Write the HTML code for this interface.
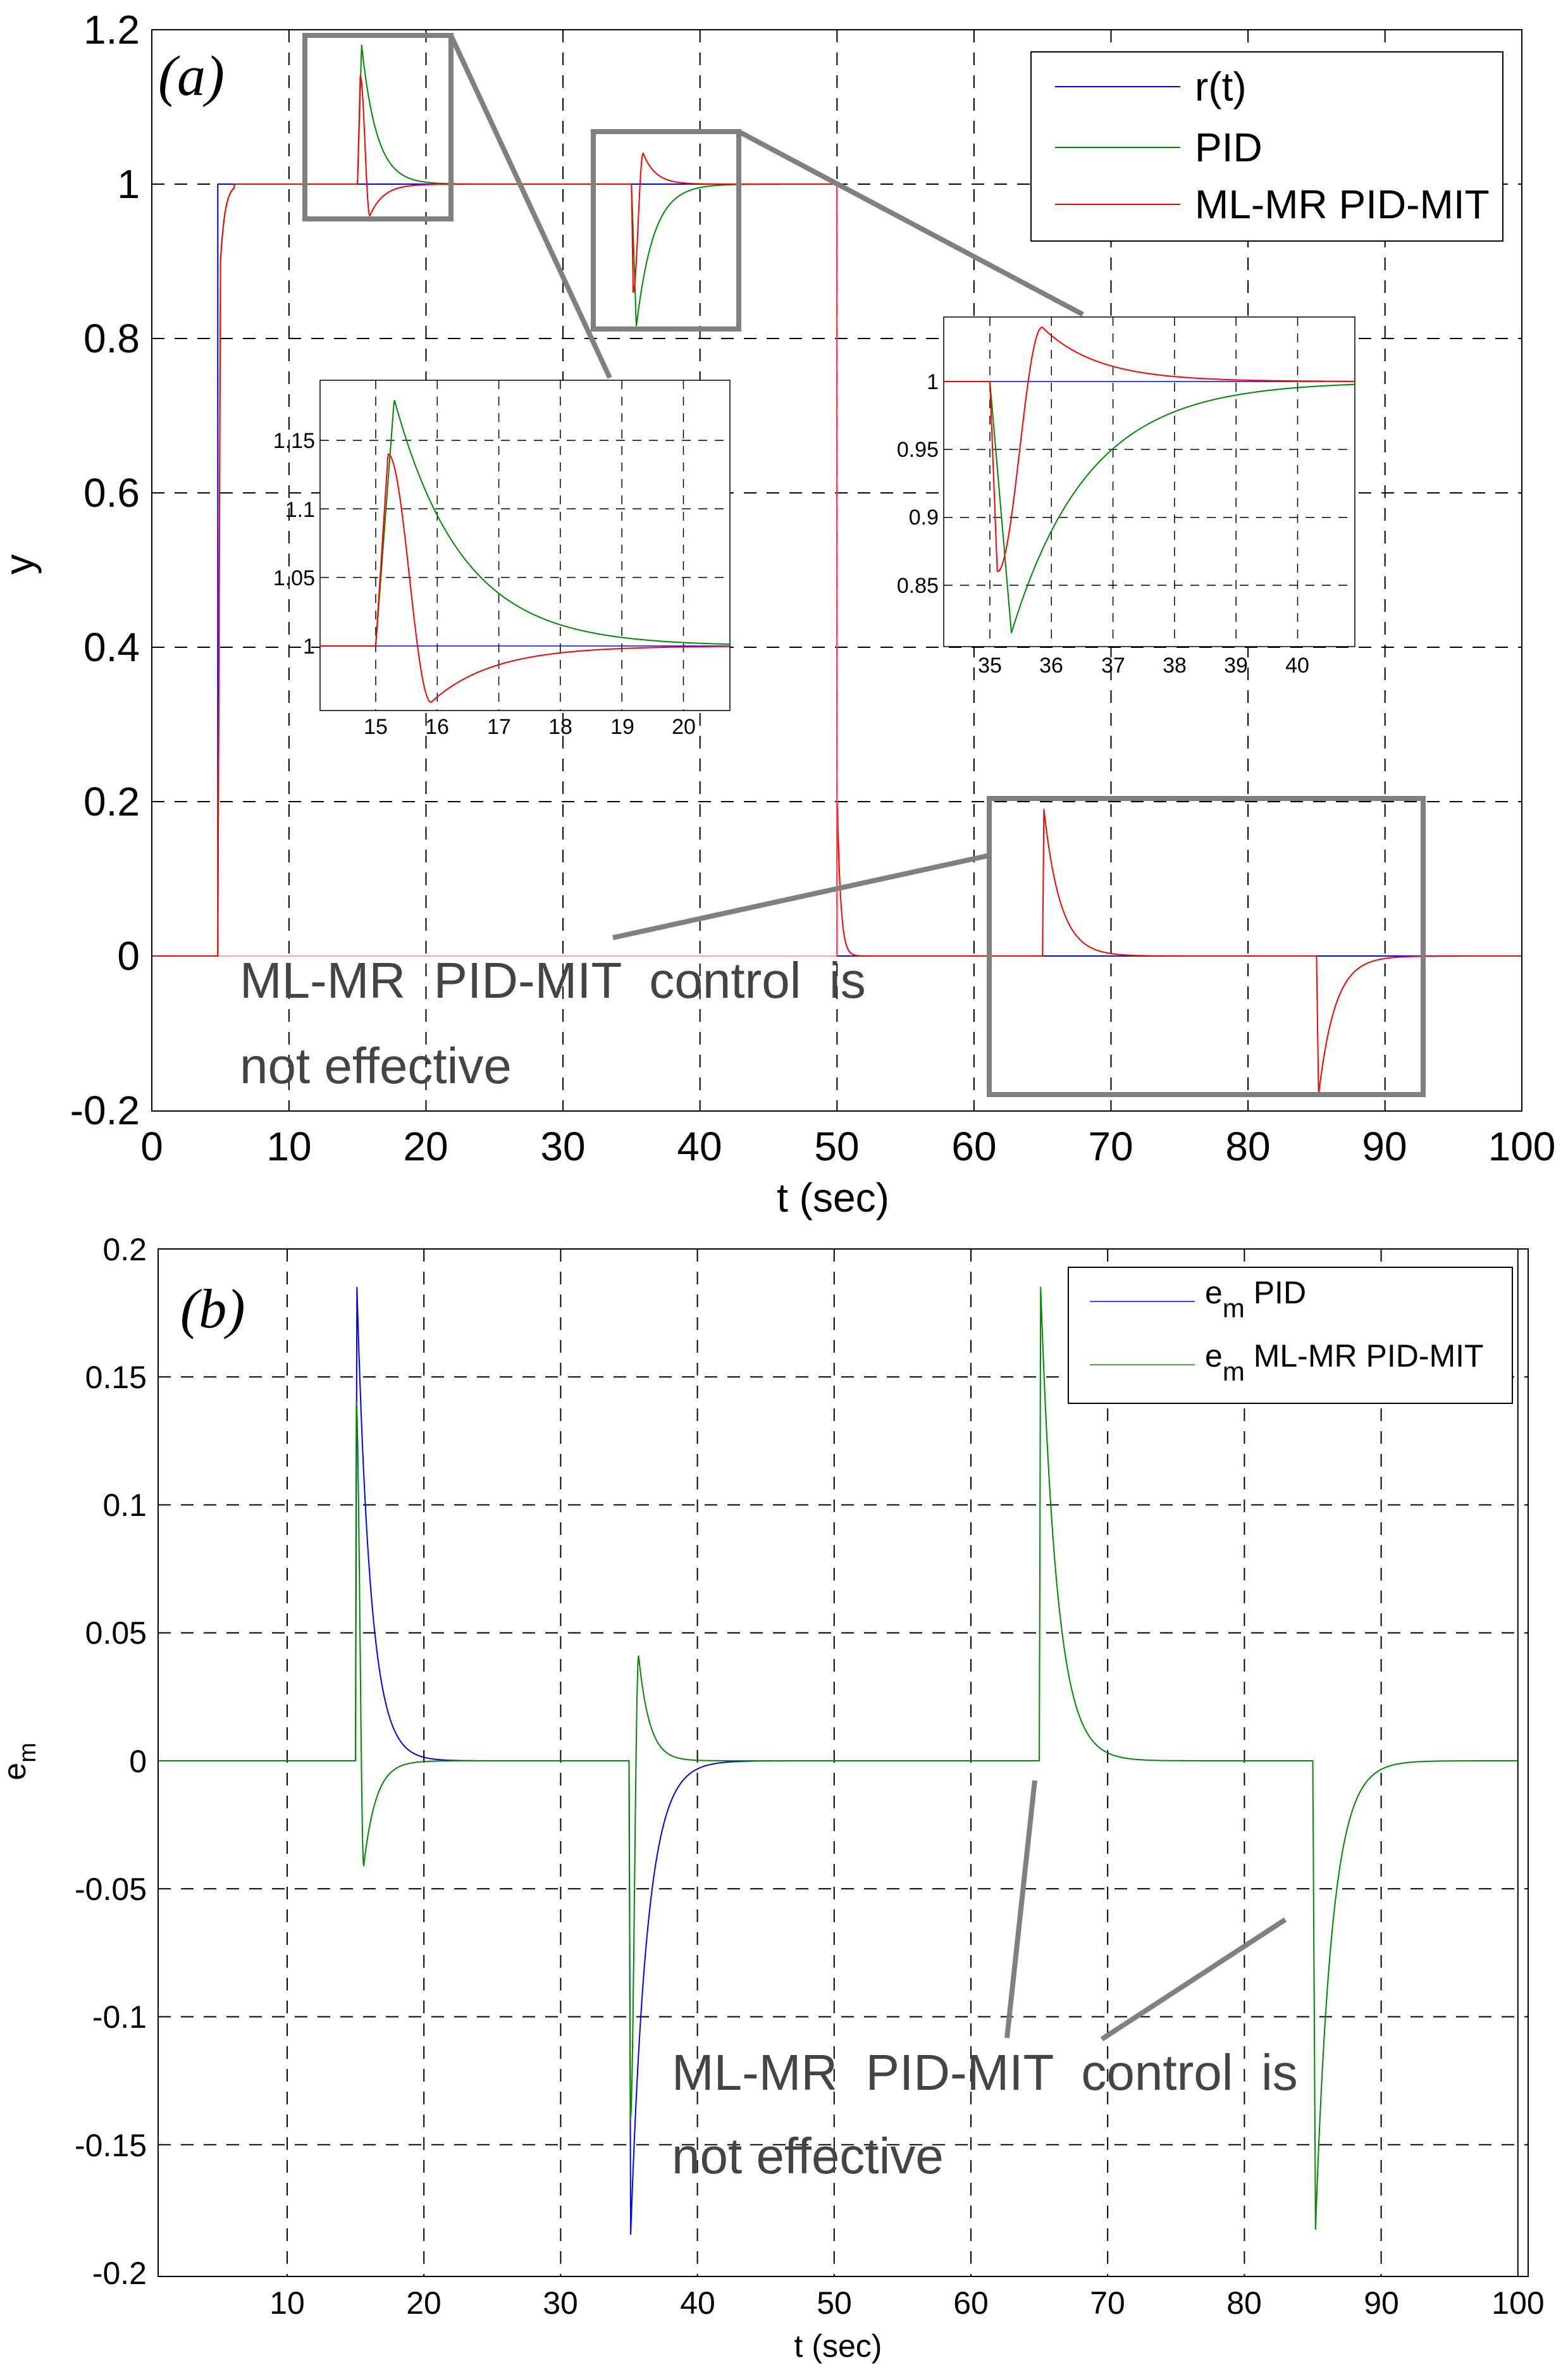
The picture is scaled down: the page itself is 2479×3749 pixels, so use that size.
<!DOCTYPE html>
<html><head><meta charset="utf-8"><style>
html,body{margin:0;padding:0;background:#fff;}
svg{display:block;font-family:"Liberation Sans",Arial,sans-serif;}
.tk{font-size:64px;}
.tk2{font-size:50px;}
.itk{font-size:34px;}
.ann{font-size:80px;fill:#444;white-space:pre;}
</style></head><body>
<svg id="s" width="2479" height="3749" viewBox="0 0 2479 3749" xmlns="http://www.w3.org/2000/svg">
<rect width="2479" height="3749" fill="#fff"/>
<g id="g"></g>
<g class="tk" text-anchor="end">
<text x="221" y="69">1.2</text><text x="221" y="313">1</text><text x="221" y="557">0.8</text>
<text x="221" y="801">0.6</text><text x="221" y="1045">0.4</text><text x="221" y="1289">0.2</text>
<text x="221" y="1533">0</text><text x="221" y="1777">-0.2</text>
</g>
<g class="tk" text-anchor="middle">
<text x="240" y="1834">0</text><text x="457" y="1834">10</text><text x="673" y="1834">20</text>
<text x="890" y="1834">30</text><text x="1106" y="1834">40</text><text x="1323" y="1834">50</text>
<text x="1540" y="1834">60</text><text x="1756" y="1834">70</text><text x="1973" y="1834">80</text>
<text x="2189" y="1834">90</text><text x="2406" y="1834">100</text>
<text x="1317" y="1915">t (sec)</text>
</g>
<text class="tk" x="68" y="908" text-anchor="middle" transform="rotate(-90 52 908)">y</text>
<text x="250" y="150" font-family="Liberation Serif,serif" font-style="italic" font-size="90">(a)</text>
<g class="tk"><text x="1889" y="159">r(t)</text><text x="1889" y="255">PID</text><text x="1889" y="345">ML-MR PID-MIT</text></g>
<text class="ann" x="379" y="1577" xml:space="preserve">ML-MR  PID-MIT  control  is</text>
<text class="ann" x="379" y="1712">not effective</text>
<g class="itk" text-anchor="middle">
<text x="594" y="1160">15</text><text x="691" y="1160">16</text><text x="789" y="1160">17</text><text x="886" y="1160">18</text><text x="984" y="1160">19</text><text x="1081" y="1160">20</text>
<text x="1565" y="1063">35</text><text x="1662" y="1063">36</text><text x="1760" y="1063">37</text><text x="1857" y="1063">38</text><text x="1954" y="1063">39</text><text x="2051" y="1063">40</text>
</g>
<g class="itk" text-anchor="end">
<text x="498" y="1033">1</text><text x="498" y="925">1.05</text><text x="498" y="817">1.1</text><text x="498" y="708">1.15</text>
<text x="1484" y="615">1</text><text x="1484" y="722">0.95</text><text x="1484" y="829">0.9</text><text x="1484" y="937">0.85</text>
</g>
<g class="tk2" text-anchor="end">
<text x="232" y="1992">0.2</text><text x="232" y="2194">0.15</text><text x="232" y="2396">0.1</text>
<text x="232" y="2598">0.05</text><text x="232" y="2801">0</text><text x="232" y="3003">-0.05</text>
<text x="232" y="3205">-0.1</text><text x="232" y="3408">-0.15</text><text x="232" y="3610">-0.2</text>
</g>
<g class="tk2" text-anchor="middle">
<text x="454" y="3657">10</text><text x="670" y="3657">20</text><text x="886" y="3657">30</text>
<text x="1103" y="3657">40</text><text x="1319" y="3657">50</text><text x="1535" y="3657">60</text>
<text x="1751" y="3657">70</text><text x="1967" y="3657">80</text><text x="2184" y="3657">90</text>
<text x="2400" y="3657">100</text>
<text x="1325" y="3725">t (sec)</text>
</g>
<text class="tk2" x="40" y="2784" text-anchor="middle" transform="rotate(-90 40 2784)">e<tspan font-size="38" dy="16">m</tspan></text>
<text x="285" y="2098" font-family="Liberation Serif,serif" font-style="italic" font-size="88">(b)</text>
<g class="tk2">
<text x="1905" y="2060">e<tspan font-size="42" dy="22">m</tspan><tspan dy="-22"> PID</tspan></text>
<text x="1905" y="2160">e<tspan font-size="42" dy="22">m</tspan><tspan dy="-22"> ML-MR PID-MIT</tspan></text>
</g>
<text class="ann" x="1062" y="3303" xml:space="preserve">ML-MR  PID-MIT  control  is</text>
<text class="ann" x="1062" y="3435">not effective</text>
</svg>
<script>
var g=document.getElementById('g'),NS='http://www.w3.org/2000/svg';
function el(t,a){var e=document.createElementNS(NS,t);for(var k in a)e.setAttribute(k,a[k]);g.appendChild(e);return e;}
function line(x1,y1,x2,y2,c,w,d){var a={x1:x1,y1:y1,x2:x2,y2:y2,stroke:c,'stroke-width':w};if(d)a['stroke-dasharray']=d;el('line',a);}
function path(pts,c,w){var s='M'+pts.map(function(p){return p[0].toFixed(1)+','+p[1].toFixed(1)}).join('L');el('path',{d:s,fill:'none',stroke:c,'stroke-width':w,'stroke-linejoin':'round'});}
function cosi(a,b,f){return a+(b-a)*(1-Math.cos(Math.PI*f))/2;}
function red15(t){var d=t-15;if(d<0)return 1;if(d<0.2)return 1+0.14*d/0.2;if(d<0.9)return cosi(1.14,0.959,(d-0.2)/0.7);return 1-0.041*Math.exp(-(d-0.9)/1.0);}
function grn15(t){var d=t-15;if(d<0)return 1;if(d<0.3)return 1+0.18*d/0.3;return 1+0.18*Math.exp(-(d-0.3)/1.1);}
function red35(t){var d=t-35;if(d<0)return 1;if(d<0.12)return 1-0.14*d/0.12;if(d<0.85)return cosi(0.86,1.04,(d-0.12)/0.73);return 1+0.04*Math.exp(-(d-0.85)/0.9);}
function grn35(t){var d=t-35;if(d<0)return 1;if(d<0.35)return 1-0.185*d/0.35;return 1-0.185*Math.exp(-(d-0.35)/1.25);}
function pulse(t,t0,A,tp,tau){var d=t-t0;if(d<0)return 0;if(d<tp)return A*d/tp;return A*Math.exp(-(d-tp)/tau);}
function yRed(t){if(t<4.8)return 0;if(t<5.0)return 0.9*(t-4.8)/0.2;if(t<6)return 0.9+0.1*(1-Math.exp(-(t-5)*3));if(t<25)return red15(t);if(t<50)return red35(t);
 if(t<64)return pulse(t,50,0.2,0.02,0.25);if(t<84)return pulse(t,65,0.19,0.1,1.2);return pulse(t,85,-0.18,0.15,1.2);}
function yGrn(t){if(t<50&&t>=6)return t<25?grn15(t):grn35(t);return yRed(t);}
var L=240,R=2406,T=47,B=1756;
function X(t){return 240.3+21.66*t;}function Y(v){return 1511-1220*v;}
var D='20,16';
for(var i=1;i<10;i++)line(X(i*10),T,X(i*10),B,'#000',2,D);
for(var i=1;i<=5;i++)line(L,Y(i*0.2),R,Y(i*0.2),'#000',2,D);
line(L,Y(0),R,Y(0),'#ff8080',1.5);
path([[L,Y(0)],[X(4.8),Y(0)],[X(4.8),Y(1)],[X(50),Y(1)],[X(50),Y(0)],[R,Y(0)]],'#00f',2);
var pg=[],pr=[];
for(var t=0;t<=100;t+=0.02){pr.push([X(t),Y(yRed(t))]);if(t<50)pg.push([X(t),Y(yGrn(t))]);}
path(pg,'#080',2);path(pr,'#f00',2);
line(X(50),Y(1),X(50),Y(0),'#f66',1.5);
el('rect',{x:L,y:T,width:R-L,height:B-T,fill:'none',stroke:'#000','stroke-width':2});
el('rect',{x:1630,y:82,width:746,height:299,fill:'#fff',stroke:'#000','stroke-width':2});
line(1668,137,1866,137,'#00f',2);line(1668,233,1866,233,'#080',2);line(1668,323,1866,323,'#f00',2);
var gc='#808080';
el('rect',{x:482,y:56,width:231,height:290,fill:'none',stroke:gc,'stroke-width':8});
el('rect',{x:938,y:208,width:230,height:312,fill:'none',stroke:gc,'stroke-width':8});
el('rect',{x:1564,y:1262,width:686,height:468,fill:'none',stroke:gc,'stroke-width':8});
line(713,56,964,597,gc,8);line(1168,208,1712,497,gc,8);line(969,1482,1564,1352,gc,8);
function inset(x0,y0,x1,y1,t0,tx,ys,v0,yv,xt,yt,fr,fg){
 el('rect',{x:x0,y:y0,width:x1-x0,height:y1-y0,fill:'#fff',stroke:'#000','stroke-width':1.5});
 function IX(t){return tx+97.3*(t-t0);}function IY(v){return yv-ys*(v-v0);}
 xt.forEach(function(t){line(IX(t),y0,IX(t),y1,'#000',1.5,'14,12');});
 yt.forEach(function(v){line(x0,IY(v),x1,IY(v),'#000',1.5,'14,12');});
 line(x0,IY(1),x1,IY(1),'#00f',1.5);
 var a=[],b=[],tmin=t0-(tx-x0)/97.3,tmax=t0+(x1-tx)/97.3;
 for(var t=tmin;t<=tmax;t+=0.01){a.push([IX(t),Math.max(y0,Math.min(y1,IY(fg(t))))]);b.push([IX(t),Math.max(y0,Math.min(y1,IY(fr(t))))]);}
 path(a,'#080',2);path(b,'#f00',2);
}
inset(506,601,1154,1123,15,594,2167,1,1021,[15,16,17,18,19,20],[1.05,1.1,1.15],red15,grn15);
inset(1492,501,2142,1022,35,1565,2147,1,603,[35,36,37,38,39,40],[0.95,0.9,0.85],red35,grn35);
var L2=250,R2=2416,T2=1974,B2=3598;
function X2(t){return 237.8+21.62*t;}function Y2(v){return 2783-4045*v;}
for(var i=1;i<=10;i++)line(X2(i*10),T2,X2(i*10),B2,'#000',2,i==10?null:D);
[0.15,0.1,0.05,-0.05,-0.1,-0.15].forEach(function(v){line(L2,Y2(v),R2,Y2(v),'#000',2,D);});
function eb(t){if(t<30)return pulse(t,15,0.185,0.1,1.0);return pulse(t,35,-0.185,0.12,1.2);}
function eg(t){if(t<15)return 0;if(t<30){var d=t-15;if(d<0.05)return 0.14*d/0.05;if(d<0.6)return cosi(0.14,-0.041,(d-0.05)/0.55);return -0.041*Math.exp(-(d-0.6)/0.9);}
 if(t<35)return 0;if(t<60){var d=t-35;if(d<0.1)return -0.14*d/0.1;if(d<0.7)return cosi(-0.14,0.041,(d-0.1)/0.6);return 0.041*Math.exp(-(d-0.7)/0.8);}
 if(t<80)return pulse(t,65,0.185,0.1,1.2);return pulse(t,85,-0.183,0.2,1.2);}
var qb=[],qg=[];
for(var t=0.6;t<=100;t+=0.02){if(t<50.2)qb.push([X2(t),Y2(eb(t))]);qg.push([X2(t),Y2(eg(t))]);}
path(qb,'#00f',2);path(qg,'#080',2);
el('rect',{x:L2,y:T2,width:R2-L2,height:B2-T2,fill:'none',stroke:'#000','stroke-width':2});
el('rect',{x:1689,y:2003,width:702,height:215,fill:'#fff',stroke:'#000','stroke-width':2});
line(1723,2057,1889,2057,'#00f',1.5);line(1723,2157,1889,2157,'#080',1.5);
line(1636,2814,1592,3221,gc,8);line(1742,3223,2032,3034,gc,8);
var s=document.getElementById('s');s.insertBefore(g,s.children[1]);
</script>
</body></html>
